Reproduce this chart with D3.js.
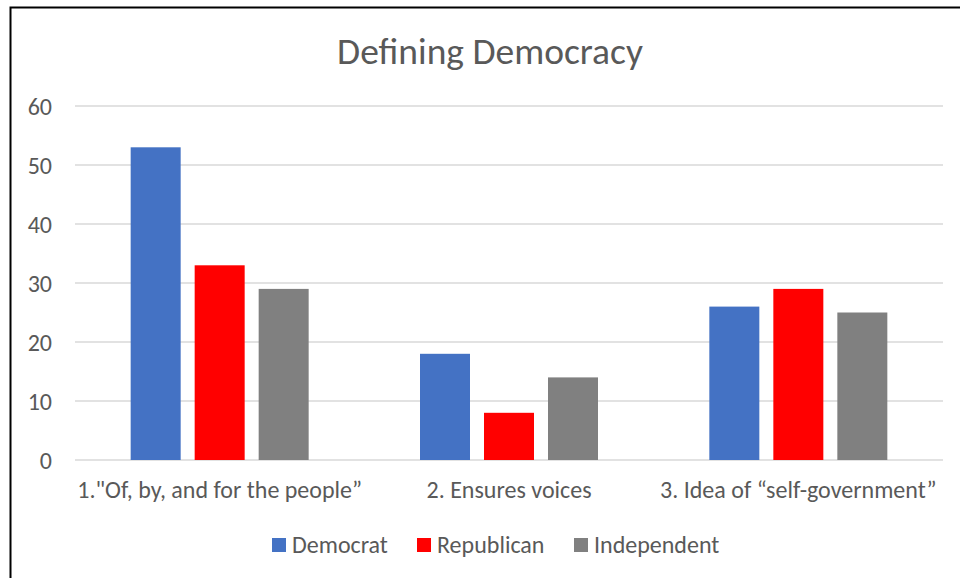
<!DOCTYPE html>
<html>
<head>
<meta charset="utf-8">
<script src="https://cdn.jsdelivr.net/npm/d3@7"></script>
<style>
  html, body { margin: 0; padding: 0; background: #fff; }
  svg text { font-family: Carlito, Calibri, "Liberation Sans Narrow", "Open Sans", sans-serif; fill: #595959; }
</style>
</head>
<body>
<svg id="chart" width="960" height="578"></svg>
<script>
const categories = ["1.\"Of, by, and for the people\u201d", "2. Ensures voices", "3. Idea of \u201cself-government\u201d"];
const seriesNames = ["Democrat", "Republican", "Independent"];
const democrat = [53, 18, 26];
const republican = [33, 8, 29];
const independent = [29, 14, 25];
const seriesColors = ["#4472C4", "#FF0000", "#808080"];
const yTicks = [0, 10, 20, 30, 40, 50, 60];

const seriesValues = [democrat, republican, independent];

const svg = d3.select("#chart");

// chart frame
svg.append("rect")
  .attr("x", 10.5).attr("y", 7.5)
  .attr("width", 960).attr("height", 580)
  .attr("fill", "none").attr("stroke", "#000").attr("stroke-width", 2);

const margin = { left: 75, right: 943, top: 106, bottom: 460 };

const x = d3.scaleBand().domain(categories).range([margin.left, margin.right]);
const y = d3.scaleLinear().domain([0, 60]).range([margin.bottom, margin.top]);
const groupWidth = 178;
const xs = d3.scaleBand().domain(seriesNames).range([0, groupWidth])
  .paddingInner(14 / 64).paddingOuter(0);

// title
svg.append("text")
  .attr("x", 490).attr("y", 64)
  .attr("text-anchor", "middle")
  .style("font-size", "37.5px")
  .text("Defining Democracy");

// gridlines
svg.append("g").selectAll("line").data(yTicks).join("line")
  .attr("x1", margin.left).attr("x2", margin.right)
  .attr("y1", d => y(d)).attr("y2", d => y(d))
  .attr("stroke", "#d9d9d9").attr("stroke-width", 1.3);

// y axis labels
const yAxis = d3.axisLeft(y).tickValues(yTicks).tickSize(0).tickPadding(0);
const yg = svg.append("g").attr("transform", `translate(${52},0)`).call(yAxis);
yg.select(".domain").remove();
yg.selectAll("text").style("font-size", "24px").attr("fill", "#595959").attr("dy", "0.35em");

// bars
const groups = svg.append("g").selectAll("g").data(categories).join("g")
  .attr("transform", d => `translate(${x(d) + (x.bandwidth() - groupWidth) / 2},0)`);

groups.selectAll("rect")
  .data((c, i) => seriesNames.map((s, j) => ({ s, j, v: seriesValues[j][i] })))
  .join("rect")
  .attr("x", d => xs(d.s))
  .attr("width", xs.bandwidth())
  .attr("y", d => y(d.v))
  .attr("height", d => y(0) - y(d.v))
  .attr("fill", d => seriesColors[d.j]);

// category labels
const xAxis = d3.axisBottom(x).tickSize(0).tickPadding(0);
const xg = svg.append("g").attr("transform", `translate(0,${498})`).call(xAxis);
xg.select(".domain").remove();
xg.selectAll("text").style("font-size", "24px").attr("fill", "#595959").attr("dy", "0");

// legend
const legendX = [272, 417, 574];
const legend = svg.append("g").selectAll("g").data(seriesNames).join("g")
  .attr("transform", (d, i) => `translate(${legendX[i]},${538})`);
legend.append("rect").attr("width", 14).attr("height", 14)
  .attr("fill", (d, i) => seriesColors[i]);
legend.append("text").attr("x", 20).attr("y", 15)
  .style("font-size", "24px").text(d => d);
</script>
</body>
</html>
